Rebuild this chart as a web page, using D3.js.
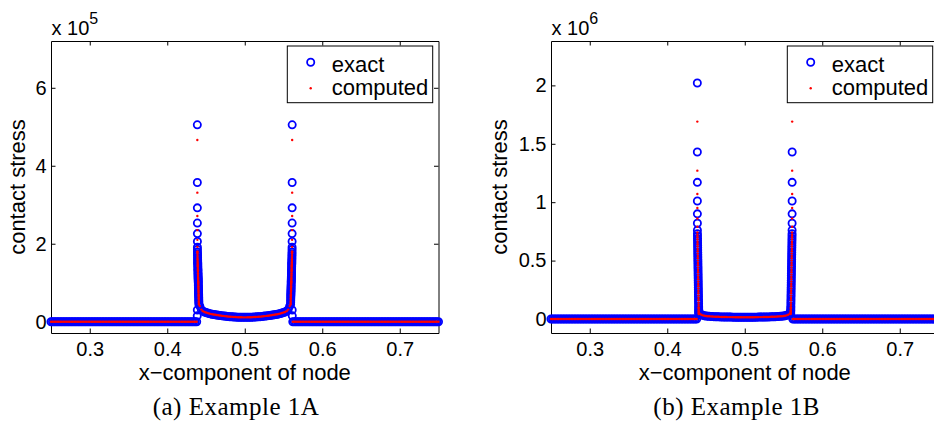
<!DOCTYPE html>
<html>
<head>
<meta charset="utf-8">
<script src="https://cdn.jsdelivr.net/npm/d3@7"></script>
<style>
  body { margin: 0; background: #fff; }
  svg { display: block; font-family: "Liberation Sans", Arial, Helvetica, sans-serif; }
  .domain, .tick line { stroke: #000; stroke-width: 1; }
  .tick text { font-size: 20px; fill: #000; font-family: "Liberation Sans", Arial, Helvetica, sans-serif; }
  .axisLabel { font-size: 22px; fill: #000; }
  .legendText { font-size: 22px; fill: #000; }
  .caption { font-family: "Liberation Serif", "Times New Roman", serif; font-size: 25px; letter-spacing: 0.5px; fill: #000; }
</style>
</head>
<body>
<svg id="chart" width="934" height="425"></svg>
<script>

// ---- data ----

// x ticks shared by both panels
const xTicks = [0.3, 0.4, 0.5, 0.6, 0.7];
const yTicksA = [0, 2, 4, 6];              // x 10^5
const yTicksB = [0, 0.5, 1, 1.5, 2];       // x 10^6

// nodes outside the contact zone (stress is zero there, both series)
const outerX = [
	0.250,0.252,0.254,0.256,0.258,0.260,0.262,0.264,0.266,0.268,0.270,0.272,0.274,0.276,0.278,0.280,
	0.282,0.284,0.286,0.288,0.290,0.292,0.294,0.296,0.298,0.300,0.302,0.304,0.306,0.308,0.310,0.312,
	0.314,0.316,0.318,0.320,0.322,0.324,0.326,0.328,0.330,0.332,0.334,0.336,0.338,0.340,0.342,0.344,
	0.346,0.348,0.350,0.352,0.354,0.356,0.358,0.360,0.362,0.364,0.366,0.368,0.370,0.372,0.374,0.376,
	0.378,0.380,0.382,0.384,0.386,0.388,0.390,0.392,0.394,0.396,0.398,0.400,0.402,0.404,0.406,0.408,
	0.410,0.412,0.414,0.416,0.418,0.420,0.422,0.424,0.426,0.428,0.430,0.432,0.434,0.436,0.438,
	0.562,0.564,0.566,0.568,0.570,0.572,0.574,0.576,0.578,0.580,0.582,0.584,0.586,0.588,0.590,0.592,
	0.594,0.596,0.598,0.600,0.602,0.604,0.606,0.608,0.610,0.612,0.614,0.616,0.618,0.620,0.622,0.624,
	0.626,0.628,0.630,0.632,0.634,0.636,0.638,0.640,0.642,0.644,0.646,0.648,0.650,0.652,0.654,0.656,
	0.658,0.660,0.662,0.664,0.666,0.668,0.670,0.672,0.674,0.676,0.678,0.680,0.682,0.684,0.686,0.688,
	0.690,0.692,0.694,0.696,0.698,0.700,0.702,0.704,0.706,0.708,0.710,0.712,0.714,0.716,0.718,0.720,
	0.722,0.724,0.726,0.728,0.730,0.732,0.734,0.736,0.738,0.740,0.742,0.744,0.746,0.748,0.750
];

// nodes clustered at the two edges of the contact zone
const spikeLeftX = [0.4387,0.4388,0.43880,0.43882,0.43884,0.43886,0.43888,0.43890,0.43892,
	0.43895,0.43900,0.43905,0.43910,0.43915,0.43920,0.43925,0.43930,0.43935,0.43940,0.43945,0.43950,
	0.43955,0.43960,0.43965,0.43970,0.43975,0.43980,0.43985,0.43990,0.43995,0.44000,0.44005,0.44010,
	0.44015,0.44020,0.44025,0.44030,0.44035,0.44040,0.44045,0.44050,0.44055,0.44060,0.44065,0.44070,
	0.44075,0.44080];
const spikeRightX = [0.5613,0.5612,0.56120,0.56118,0.56116,0.56114,0.56112,0.56110,0.56108,
	0.56105,0.56100,0.56095,0.56090,0.56085,0.56080,0.56075,0.56070,0.56065,0.56060,0.56055,0.56050,
	0.56045,0.56040,0.56035,0.56030,0.56025,0.56020,0.56015,0.56010,0.56005,0.56000,0.55995,0.55990,
	0.55985,0.55980,0.55975,0.55970,0.55965,0.55960,0.55955,0.55950,0.55945,0.55940,0.55935,0.55930,
	0.55925,0.55920];

// example 1A spike values (x 10^5), same on both edges
const exactSpikeA = [0.15,0.30,5.05,3.57,2.92,2.53,2.26,2.06,1.91,
	1.85,1.79,1.74,1.69,1.64,1.60,1.56,1.52,1.49,1.46,1.42,1.38,1.34,1.31,1.27,1.23,1.20,1.16,1.13,
	1.10,1.07,1.04,1.01,0.97,0.93,0.89,0.86,0.82,0.79,0.76,0.72,0.69,0.66,0.62,0.58,0.54,0.50,0.45];
const computedSpikeA = [null,null,4.66,3.31,2.71,2.35,2.10,1.92,1.78,
	1.80,1.74,1.69,1.64,1.60,1.56,1.52,1.48,1.45,1.42,1.38,1.34,1.31,1.28,1.24,1.20,1.17,1.13,1.10,
	1.07,1.04,1.01,0.98,0.95,0.91,0.87,0.84,0.80,0.77,0.74,0.70,0.67,0.64,0.60,0.56,0.52,0.48,0.44];

// example 1B spike values (x 10^6); right edge has no top circle
const exactSpikeBLeft = [null,null,2.02,1.43,1.17,1.01,0.90,0.82,0.76,
	0.73,0.71,0.69,0.67,0.65,0.63,0.61,0.59,0.57,0.55,0.53,0.51,0.49,0.47,0.45,0.43,0.41,0.39,0.37,
	0.35,0.33,0.31,0.29,0.27,0.25,0.23,0.21,0.19,0.17,0.15,0.13,0.11,0.095,0.08,0.07,0.06,0.05,0.045];
const exactSpikeBRight = [null,null,null,1.43,1.17,1.01,0.90,0.82,0.76,
	0.73,0.71,0.69,0.67,0.65,0.63,0.61,0.59,0.57,0.55,0.53,0.51,0.49,0.47,0.45,0.43,0.41,0.39,0.37,
	0.35,0.33,0.31,0.29,0.27,0.25,0.23,0.21,0.19,0.17,0.15,0.13,0.11,0.095,0.08,0.07,0.06,0.05,0.045];
const computedSpikeB = [null,null,1.69,1.27,1.07,0.95,0.86,0.79,0.74,
	0.72,0.70,0.68,0.66,0.64,0.62,0.60,0.58,0.56,0.54,0.52,0.50,0.48,0.46,0.44,0.42,0.40,0.38,0.36,
	0.34,0.32,0.30,0.28,0.26,0.24,0.22,0.20,0.18,0.16,0.14,0.12,0.10,0.09,0.075,0.065,0.055,0.048,0.043];

// nodes inside the contact zone
const innerX = [
	0.442,0.444,0.446,0.448,0.450,0.452,0.454,0.456,0.458,0.460,0.462,0.464,0.466,0.468,0.470,0.472,
	0.474,0.476,0.478,0.480,0.482,0.484,0.486,0.488,0.490,0.492,0.494,0.496,0.498,0.500,0.502,0.504,
	0.506,0.508,0.510,0.512,0.514,0.516,0.518,0.520,0.522,0.524,0.526,0.528,0.530,0.532,0.534,0.536,
	0.538,0.540,0.542,0.544,0.546,0.548,0.550,0.552,0.554,0.556,0.558
];
const innerA = [
	0.40,0.31,0.27,0.25,0.235,0.222,0.21,0.20,0.192,0.185,0.178,0.172,0.166,0.160,0.154,0.148,
	0.143,0.138,0.134,0.130,0.127,0.124,0.121,0.119,0.117,0.115,0.114,0.113,0.112,0.112,0.112,0.113,
	0.114,0.115,0.117,0.119,0.121,0.124,0.127,0.130,0.134,0.138,0.143,0.148,0.154,0.160,0.166,0.172,
	0.178,0.185,0.192,0.20,0.21,0.222,0.235,0.25,0.27,0.31,0.40
];
const innerB = [
	0.045,0.036,0.031,0.028,0.026,0.024,0.023,0.022,0.021,0.020,0.0195,0.019,0.0185,0.018,0.0175,0.017,
	0.017,0.0165,0.016,0.016,0.016,0.0155,0.0155,0.015,0.015,0.015,0.015,0.015,0.015,0.015,0.015,0.015,
	0.015,0.015,0.015,0.015,0.0155,0.0155,0.016,0.016,0.016,0.0165,0.017,0.017,0.0175,0.018,0.0185,0.019,
	0.0195,0.020,0.021,0.022,0.023,0.024,0.026,0.028,0.031,0.036,0.045
];

const legendLabels = ["exact", "computed"];

// ---- setup ----

const svg = d3.select("#chart");
const xDomain = [0.25, 0.75];
const TICK = 4.5;

function pts(xs, ys) {
	return xs.map((x, i) => ({x: x, y: ys[i]})).filter(d => d.y !== null);
}

function makePanel(p) {

	const g = svg.append("g");

	const xScale = d3.scaleLinear().domain(xDomain).range([p.left, p.right]);
	const yScale = d3.scaleLinear().domain(p.yDomain).range([p.bottom, p.top]);

	// axes, ticks pointing in
	g.append("g")
		.attr("transform", `translate(0, ${p.bottom})`)
		.call(d3.axisBottom(xScale).tickValues(xTicks).tickFormat(d3.format(".1f"))
			.tickSizeInner(-TICK).tickSizeOuter(0).tickPadding(8.5));
	g.append("g")
		.attr("transform", `translate(0, ${p.top})`)
		.call(d3.axisTop(xScale).tickValues(xTicks).tickFormat("")
			.tickSizeInner(-TICK).tickSizeOuter(0));
	g.append("g")
		.attr("transform", `translate(${p.left}, 0)`)
		.call(d3.axisLeft(yScale).tickValues(p.yTicks).tickFormat(d => String(d))
			.tickSizeInner(-TICK).tickSizeOuter(0).tickPadding(4.5));
	g.append("g")
		.attr("transform", `translate(${p.right}, 0)`)
		.call(d3.axisRight(yScale).tickValues(p.yTicks).tickFormat("")
			.tickSizeInner(-TICK).tickSizeOuter(0));

	g.selectAll(".tick text").attr("font-size", null).attr("font-family", null);

	// exponent above the y axis
	const expo = g.append("text")
		.attr("x", p.left + 0.5)
		.attr("y", 35)
		.attr("font-size", 20)
		.text("x 10");
	expo.append("tspan")
		.attr("dy", -11)
		.attr("font-size", 16)
		.text(p.exponent);

	// labels
	g.append("text")
		.attr("class", "axisLabel")
		.attr("x", (p.left + p.right) / 2)
		.attr("y", 380)
		.attr("text-anchor", "middle")
		.text("x\u2212component of node");

	g.append("text")
		.attr("class", "axisLabel")
		.attr("transform", `translate(${p.ylabelX}, ${(p.top + p.bottom) / 2}) rotate(-90)`)
		.attr("text-anchor", "middle")
		.text("contact stress");

	g.append("text")
		.attr("class", "caption")
		.attr("x", p.captionX)
		.attr("y", 415)
		.attr("text-anchor", "middle")
		.text(p.caption);

	// points
	const exact = [].concat(
		outerX.map(x => ({x: x, y: 0})),
		pts(spikeLeftX, p.exactLeft),
		pts(spikeRightX, p.exactRight),
		pts(innerX, p.inner)
	);
	const computed = [].concat(
		outerX.map(x => ({x: x, y: 0})),
		pts(spikeLeftX, p.computedSpike),
		pts(spikeRightX, p.computedSpike),
		pts(innerX, p.inner)
	);

	g.append("g").selectAll("circle")
	  .data(exact)
	  .join("circle")
		.attr("cx", d => xScale(d.x))
		.attr("cy", d => yScale(d.y))
		.attr("r", 3.6)
		.attr("fill", "none")
		.attr("stroke", "#0000ff")
		.attr("stroke-width", 1.8);

	g.append("g").selectAll("circle")
	  .data(computed)
	  .join("circle")
		.attr("cx", d => xScale(d.x))
		.attr("cy", d => yScale(d.y))
		.attr("r", 1.2)
		.attr("fill", "#ff0000");

	// legend
	const lx = p.right - 151.2, ly = p.top + 5;
	const leg = g.append("g").attr("transform", `translate(${lx}, ${ly})`);
	leg.append("rect")
		.attr("x", 0).attr("y", 0)
		.attr("width", 145.4).attr("height", 56.7)
		.attr("fill", "#fff")
		.attr("stroke", "#000")
		.attr("stroke-width", 1);
	leg.append("circle")
		.attr("cx", 23.4).attr("cy", 16.3).attr("r", 3.6)
		.attr("fill", "none").attr("stroke", "#0000ff").attr("stroke-width", 1.8);
	leg.append("circle")
		.attr("cx", 23.4).attr("cy", 42.3).attr("r", 1.2)
		.attr("fill", "#ff0000");
	leg.selectAll(".legendText")
	  .data(legendLabels)
	  .join("text")
		.attr("class", "legendText")
		.attr("x", 44.4)
		.attr("y", (d, i) => 25.7 + i * 23.3)
		.text(d => d);
}

makePanel({
	left: 51, right: 438.5, top: 41, bottom: 333,
	yDomain: [-0.29, 7.2], yTicks: yTicksA, exponent: "5",
	ylabelX: 25, captionX: 236, caption: "(a) Example 1A",
	exactLeft: exactSpikeA, exactRight: exactSpikeA, computedSpike: computedSpikeA, inner: innerA
});

makePanel({
	left: 551, right: 938.5, top: 41, bottom: 333,
	yDomain: [-0.12, 2.38], yTicks: yTicksB, exponent: "6",
	ylabelX: 507, captionX: 736.7, caption: "(b) Example 1B",
	exactLeft: exactSpikeBLeft, exactRight: exactSpikeBRight, computedSpike: computedSpikeB, inner: innerB
});

</script>
</body>
</html>
